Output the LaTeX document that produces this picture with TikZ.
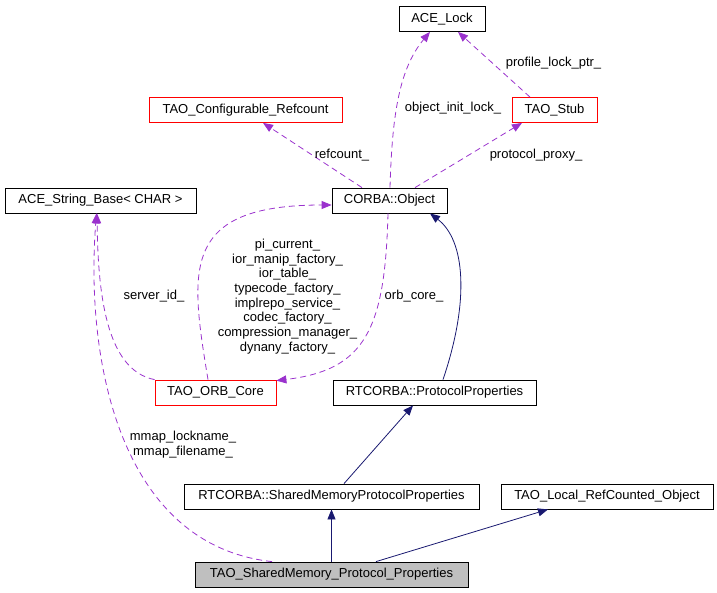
\documentclass[tikz,border=0pt]{standalone}
\usepackage{fontspec}
\setmainfont{Liberation Sans}
\usetikzlibrary{arrows.meta}
\definecolor{usepurple}{RGB}{154,50,205}
\definecolor{inhnavy}{RGB}{25,25,112}
\definecolor{selfgrey}{RGB}{191,191,191}

\begin{document}
\begin{tikzpicture}[x=1pt,y=-1pt,
  cls/.style={draw,line width=0.8pt,minimum height=25pt,inner sep=0pt,font=\fontsize{13}{15}\selectfont},
  undoc/.style={cls,draw=red},
  uses/.style={draw=usepurple,line width=0.8pt,dash pattern=on 6pt off 4pt,-{Triangle[length=10pt,width=8pt,fill=usepurple]}},
  inherits/.style={draw=inhnavy,line width=0.8pt,-{Triangle[length=10pt,width=8pt,fill=inhnavy]}},
  lbl/.style={align=center,inner sep=0pt,font=\fontsize{13}{14.7}\selectfont}]
\useasboundingbox (0,0) rectangle (717,592);

\node[cls,minimum width=86pt] (lock) at (442,19) {ACE\_Lock};
\node[undoc,minimum width=193pt] (refcount) at (245.5,110) {TAO\_Configurable\_Refcount};
\node[undoc,minimum width=85pt] (stub) at (554.5,110) {TAO\_Stub};
\node[cls,minimum width=191pt] (strbase) at (100.5,200.5) {ACE\_String\_Base< CHAR >};
\node[cls,minimum width=115pt] (object) at (389.5,200.5) {CORBA::Object};
\node[undoc,minimum width=121pt] (orbcore) at (215.5,392.5) {TAO\_ORB\_Core};
\node[cls,minimum width=203pt] (protprops) at (434.5,392.5) {RTCORBA::ProtocolProperties};
\node[cls,minimum width=295pt] (shmprops) at (331.5,496.5) {RTCORBA::SharedMemoryProtocolProperties};
\node[cls,minimum width=212pt] (localobj) at (607,496.5) {TAO\_Local\_RefCounted\_Object};
\node[cls,fill=selfgrey,minimum width=273pt] (shmproto) at (331.5,574.5) {TAO\_SharedMemory\_Protocol\_Properties};

\draw[uses] ([xshift=0.5pt]object.north) .. controls (392,120) and (398,70) .. ([xshift=-12pt]lock.south);
\draw[uses] ([xshift=-24.5pt]stub.north) -- ([xshift=16pt]lock.south);
\draw[uses] ([xshift=-27.5pt]object.north) -- ([xshift=17.5pt]refcount.south);
\draw[uses] ([xshift=25.5pt]object.north) -- ([xshift=-32.5pt]stub.south);
\draw[uses] ([xshift=-7.5pt]orbcore.north) .. controls (190,270) and (180,205) .. ([yshift=-4.5pt]object.west);
\draw[uses] ([xshift=-1.5pt]object.south) .. controls (385,330) and (365,370) .. ([yshift=-1pt]orbcore.north east);
\draw[uses] (orbcore.north west) .. controls (105,370) and (98,290) .. ([xshift=-3.5pt]strbase.south);
\draw[uses] ([xshift=-59.5pt]shmproto.north) .. controls (120,545) and (85,360) .. ([xshift=-4pt]strbase.south);

\draw[inherits] ([xshift=8.5pt]protprops.north) .. controls (470,300) and (465,240) .. ([xshift=40.5pt]object.south);
\draw[inherits] ([xshift=12.5pt]shmprops.north) -- ([xshift=-21.5pt]protprops.south);
\draw[inherits] (shmproto.north) -- (shmprops.south);
\draw[inherits] ([xshift=44.5pt]shmproto.north) -- ([xshift=-59pt]localobj.south);

\node[lbl] (lbllockptr) at (553.5,63) {profile\_lock\_ptr\_};
\node[lbl] (lblinitlock) at (453,108) {object\_init\_lock\_};
\node[lbl] (lblrefcount) at (342,155) {refcount\_};
\node[lbl] (lblproxy) at (536,155) {protocol\_proxy\_};
\node[lbl] (lblorbmembers) at (287.5,296.5) {pi\_current\_\\ior\_manip\_factory\_\\ior\_table\_\\typecode\_factory\_\\implrepo\_service\_\\codec\_factory\_\\compression\_manager\_\\dynany\_factory\_};
\node[lbl] (lblorbcore) at (414,296) {orb\_core\_};
\node[lbl] (lblserverid) at (154,296) {server\_id\_};
\node[lbl] (lblmmap) at (183,444.5) {mmap\_lockname\_\\mmap\_filename\_};
\end{tikzpicture}
\end{document}
